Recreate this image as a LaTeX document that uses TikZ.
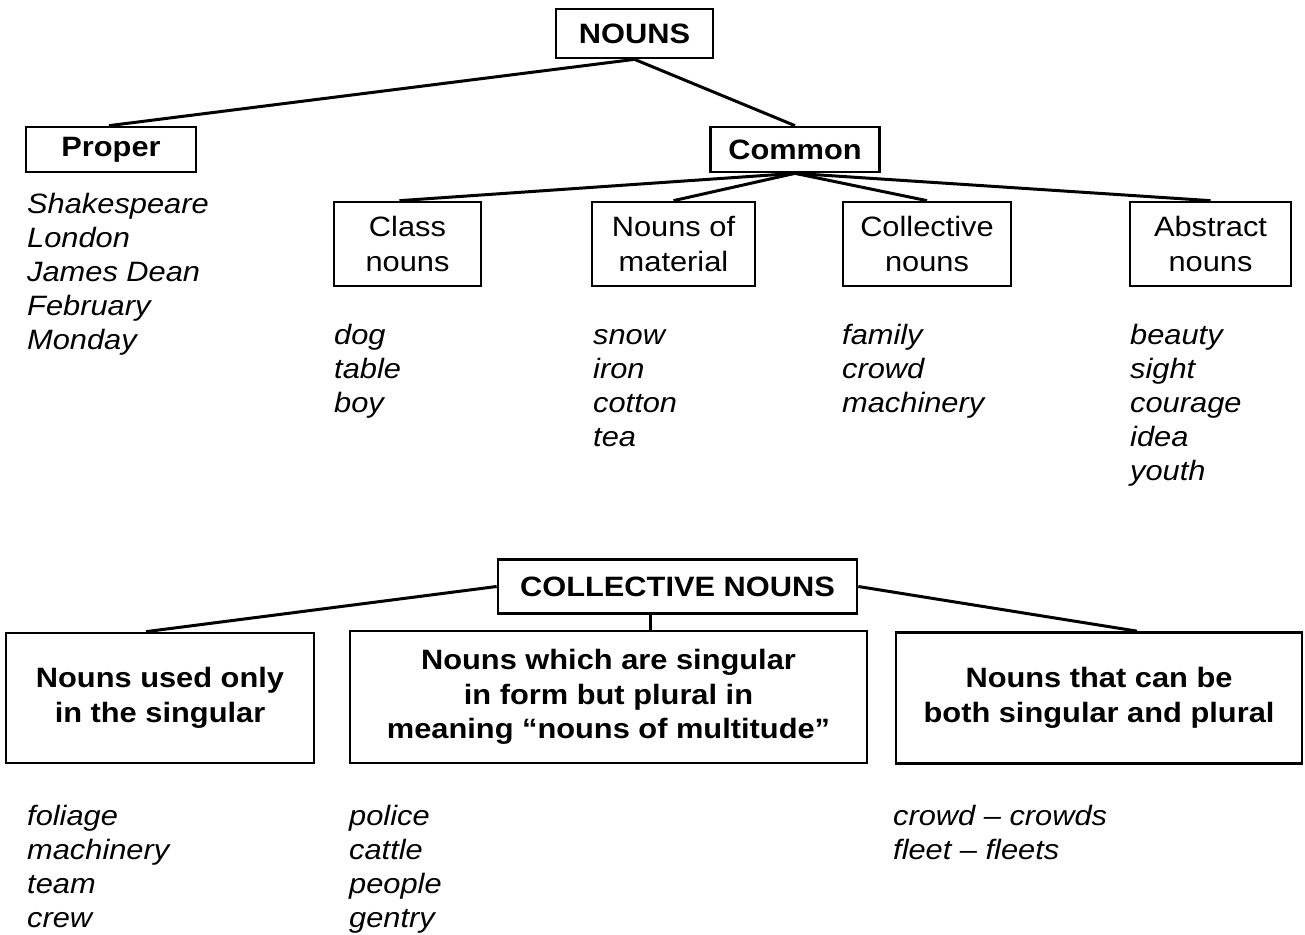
\documentclass[tikz,border=0pt]{standalone}
\usepackage{fontspec}
\setmainfont{Liberation Sans}[FakeStretch=1.1]
\newcommand\nfsize{\fontsize{28}{34.5}\selectfont}
\begin{document}
\begin{tikzpicture}[x=1pt,y=-1pt,
  box/.style={draw, line width=2.7pt, inner sep=0pt, align=center, font=\nfsize},
  bbox/.style={box, font=\nfsize\bfseries},
  conn/.style={line width=3pt},
  item/.style={anchor=base west, inner sep=0pt, font=\nfsize\itshape}]
\useasboundingbox (0,0) rectangle (1305,934);

% top tree
\node[bbox, minimum width=157pt, minimum height=49pt] (nouns) at (634.5,33.5) {NOUNS};
\node[bbox, minimum width=170pt, minimum height=45pt] (proper) at (111,149.5) {Proper};
\node[bbox, minimum width=169pt, minimum height=45pt] (common) at (795,149.5) {Common};
\node[box, minimum width=147pt, minimum height=84pt] (class) at (407.5,244) {Class\\nouns};
\node[box, minimum width=163pt, minimum height=84pt] (material) at (673.5,244) {Nouns of\\material};
\node[box, minimum width=168pt, minimum height=84pt] (colln) at (927,244) {Collective\\nouns};
\node[box, minimum width=161pt, minimum height=84pt] (abstract) at (1210.5,244) {Abstract\\nouns};

\draw[conn] (nouns.south) -- ([xshift=-2pt]proper.north);
\draw[conn] (nouns.south) -- (common.north);
\draw[conn] (common.south) -- ([xshift=-8pt]class.north);
\draw[conn] (common.south) -- (material.north);
\draw[conn] (common.south) -- (colln.north);
\draw[conn] (common.south) -- (abstract.north);

\foreach \t [count=\i] in {Shakespeare, London, James Dean, February, Monday}
  \node[item] (pr\i) at (27,{213+34*(\i-1)}) {\t};
\foreach \t [count=\i] in {dog, table, boy}
  \node[item] (cl\i) at (334,{344+34*(\i-1)}) {\t};
\foreach \t [count=\i] in {snow, iron, cotton, tea}
  \node[item] (ma\i) at (593,{344+34*(\i-1)}) {\t};
\foreach \t [count=\i] in {family, crowd, machinery}
  \node[item] (co\i) at (842,{344+34*(\i-1)}) {\t};
\foreach \t [count=\i] in {beauty, sight, courage, idea, youth}
  \node[item] (ab\i) at (1130,{344+34*(\i-1)}) {\t};

% bottom tree
\node[bbox, minimum width=359pt, minimum height=54pt] (coll) at (677.5,586.5) {COLLECTIVE NOUNS};
\node[bbox, minimum width=308pt, minimum height=130pt] (b1) at (160,698) {Nouns used only\\in the singular};
\node[bbox, minimum width=517pt, minimum height=132pt] (b2) at (608.5,697) {Nouns which are singular\\in form but plural in\\meaning “nouns of multitude”};
\node[bbox, minimum width=406pt, minimum height=131pt] (b3) at (1099,698) {Nouns that can be\\both singular and plural};

\draw[conn] (coll.west) -- ([xshift=-14pt]b1.north);
\draw[conn] (coll.east) -- ([xshift=38pt]b3.north);
\draw[conn] ([xshift=-27pt]coll.south) -- ([xshift=-27pt]coll.south |- b2.north);

\foreach \t [count=\i] in {foliage, machinery, team, crew}
  \node[item] (sg\i) at (27,{825+34*(\i-1)}) {\t};
\foreach \t [count=\i] in {police, cattle, people, gentry}
  \node[item] (pl\i) at (349,{825+34*(\i-1)}) {\t};
\node[item] (bo1) at (893,825) {crowd – crowds};
\node[item] (bo2) at (893,859) {fleet – fleets};
\end{tikzpicture}
\end{document}
